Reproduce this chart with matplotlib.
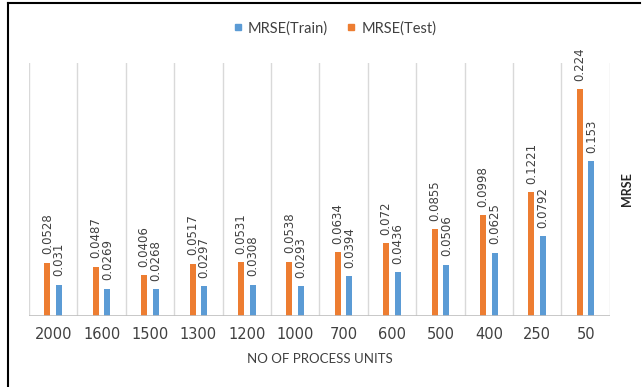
import numpy as np
import matplotlib
matplotlib.use("Agg")
import matplotlib.pyplot as plt
from matplotlib.lines import Line2D

# ── Data ──────────────────────────────────────────────────────────────────────
units = ["2000", "1600", "1500", "1300", "1200", "1000", "700", "600", "500", "400", "250", "50"]
mrse_test = [0.0528, 0.0487, 0.0406, 0.0517, 0.0531, 0.0538, 0.0634, 0.072, 0.0855, 0.0998, 0.1221, 0.224]
mrse_train = [0.031, 0.0269, 0.0268, 0.0297, 0.0308, 0.0293, 0.0394, 0.0436, 0.0506, 0.0625, 0.0792, 0.153]

COLOR_TEST = "#ED7D31"
COLOR_TRAIN = "#5B9BD5"
GRID = "#D9D9D9"

fig = plt.figure(figsize=(6.44, 3.87), dpi=100)
ax = fig.add_axes([0.045, 0.1835, 0.902, 0.6535])

x = np.arange(len(units))
w = 0.125
off = 0.12

ax.bar(x - off, mrse_test, width=w, color=COLOR_TEST, zorder=3)
ax.bar(x + off, mrse_train, width=w, color=COLOR_TRAIN, zorder=3)

# value labels, rotated like the spreadsheet original
for xi, v in zip(x, mrse_test):
    ax.annotate(f"{v:g}", (xi - off, v), xytext=(0, 6), textcoords="offset points",
                rotation=90, ha="center", va="bottom", fontsize=8.5, color="#404040")
for xi, v in zip(x, mrse_train):
    ax.annotate(f"{v:g}", (xi + off, v), xytext=(0, 6), textcoords="offset points",
                rotation=90, ha="center", va="bottom", fontsize=8.5, color="#404040")

ax.set_xlim(-0.5, len(units) - 0.5)
ax.set_ylim(0, 0.25)

# category separators
for b in np.arange(-0.5, len(units), 1.0):
    ax.axvline(b, color=GRID, lw=1.0, zorder=1)
ax.axhline(0, color="#BFBFBF", lw=1.2, zorder=4)

for s in ax.spines.values():
    s.set_visible(False)
ax.set_yticks([])
ax.set_xticks(x)
ax.set_xticklabels(units, fontsize=10.5, color="#404040")
ax.tick_params(axis="x", length=0, pad=8)

ax.set_xlabel("NO OF PROCESS UNITS", fontsize=9.5, family="Lato", color="#404040", labelpad=8)
ax.yaxis.set_label_position("right")
ax.set_ylabel("MRSE", fontsize=9, family="Lato", fontweight="bold", color="#262626", labelpad=8)

handles = [
    Line2D([], [], marker="s", linestyle="", color=COLOR_TRAIN, markersize=5),
    Line2D([], [], marker="s", linestyle="", color=COLOR_TEST, markersize=5),
]
fig.legend(handles, ["MRSE(Train)", "MRSE(Test)"], loc="center", bbox_to_anchor=(0.519, 0.927),
           ncol=2, frameon=False, prop={"family": "Lato", "size": 10.5},
           handlelength=0.8, handletextpad=0.3, columnspacing=1.2, labelcolor="#404040")

# outer frame lines (left and top)
fig.add_artist(Line2D([8 / 644, 8 / 644], [0, 1 - 3 / 387], color="black", lw=1.5))
fig.add_artist(Line2D([8 / 644, 640 / 644], [1 - 3 / 387, 1 - 3 / 387], color="black", lw=1.5))

plt.savefig("out.png", dpi=100)
plt.close()
